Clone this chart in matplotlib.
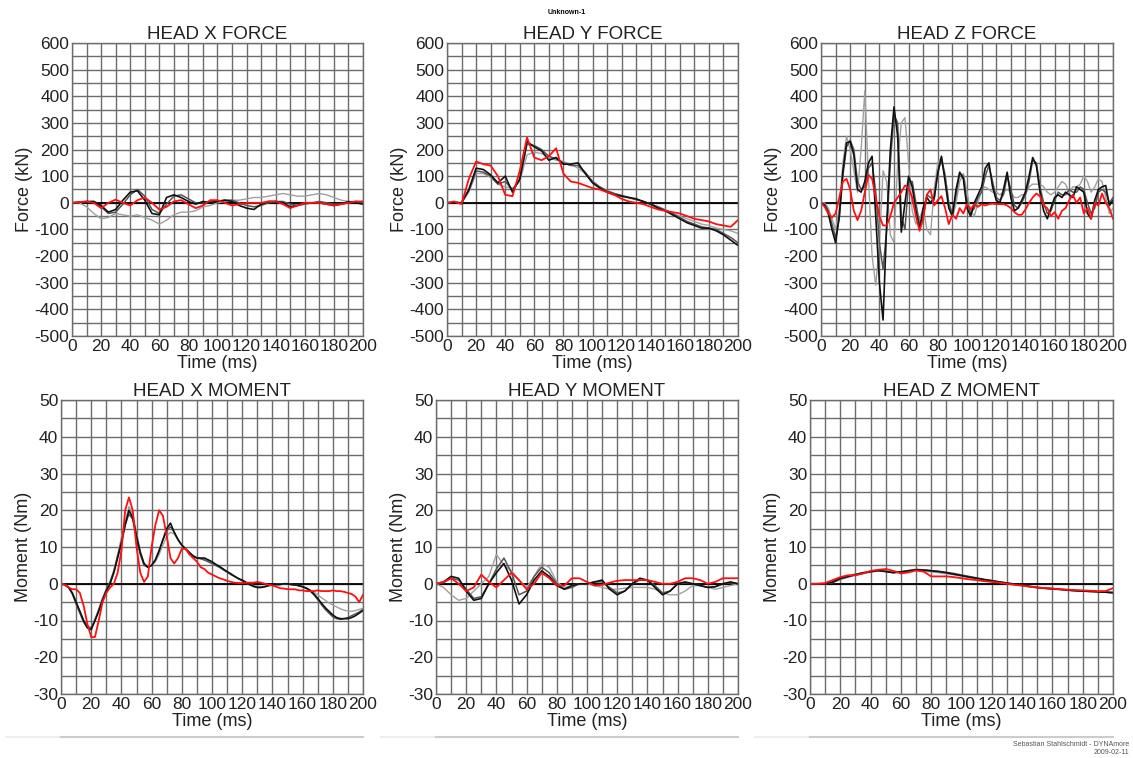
import numpy as np
import matplotlib.pyplot as plt

plt.rcParams['font.family'] = ['Liberation Sans', 'DejaVu Sans']
plt.rcParams['axes.unicode_minus'] = False

# sample times (ms)
t5 = np.arange(0, 201, 5.0)
t25 = np.arange(0, 200.1, 2.5)

# ---- head forces (kN) ----
fx_black = [0, 2, 5, 5, -10, -35, -25, 10, 40, 45, 10, -40, -45, 20, 30, 20, 5, -5, 5, 0, 5,
            10, 5, -10, -20, -25, -5, 5, 5, 0, -15, -10, 0, 0, 0, -5, -10, -5, 5, 0, -5]
fx_dark = [0, 2, 3, 5, -15, -40, -35, -5, 30, 50, 25, -25, -40, -5, 25, 30, 15, 0, 0, 5, 5,
           10, 10, 0, -10, -15, -10, 0, 5, 5, -5, -10, -5, 0, 5, 0, -5, -5, 0, 5, 0]
fx_gray = [0, 0, -15, -40, -60, -55, -40, -45, -50, -45, -55, -65, -80, -65, -45, -35, -35, -30, -15, -10, 0,
           5, 10, 10, 15, 20, 20, 25, 30, 35, 30, 25, 25, 30, 35, 30, 20, 10, 5, 5, 5]
fx_red = [0, 3, 5, 0, -20, 0, 12, 0, -10, 10, 20, 0, -25, -15, 5, 10, -5, -20, -10, 10, 10,
          0, -10, -5, 0, 0, 0, 5, 5, -5, -20, -10, 0, 0, 0, -5, -10, -5, 0, 5, 5]

fy_black = [0, 2, 0, 50, 130, 125, 105, 75, 100, 40, 90, 230, 210, 195, 160, 170, 145, 145, 150, 110, 75,
            55, 40, 30, 25, 20, 15, 5, -5, -20, -30, -45, -60, -75, -85, -95, -95, -105, -120, -140, -160]
fy_dark = [0, 2, 0, 45, 120, 115, 100, 70, 80, 50, 85, 220, 215, 200, 175, 165, 150, 140, 140, 115, 80,
           60, 45, 35, 28, 20, 12, 5, -5, -15, -28, -40, -55, -70, -80, -90, -95, -100, -115, -130, -150]
fy_gray = [0, 2, 0, 40, 110, 110, 95, 70, 60, 55, 80, 180, 190, 185, 170, 160, 155, 145, 130, 110, 80,
           60, 45, 35, 25, 18, 12, 5, -5, -15, -25, -40, -50, -60, -70, -80, -85, -95, -100, -105, -115]
fy_red = [0, 5, -5, 90, 155, 145, 140, 100, 30, 25, 120, 245, 170, 160, 175, 205, 110, 80, 75, 65, 55,
          50, 40, 30, 15, 5, 0, -5, -15, -25, -30, -35, -40, -50, -60, -65, -70, -80, -85, -90, -65]

fz_black = [0, -10, -40, -100, -150, -50, 120, 225, 230, 180, 50, 40, 80, 150, 175, -50, -300, -440, -80, 200,
            360, 250, -110, 0, 100, 60, -30, -100, -20, 20, 0, 20, 110, 175, 80, -20, -50, 50, 115, 90,
            -20, -50, 0, 30, 60, 130, 150, 60, 10, 0, 50, 115, 20, -30, -20, 10, 40, 100, 170, 140,
            40, -30, -60, -20, 20, 30, 20, 40, 30, 20, 60, 50, 40, -40, -60, 10, 50, 60, 65, -10, 10]
fz_dark = [0, -5, -30, -80, -130, -60, 100, 210, 235, 200, 80, 50, 60, 130, 150, 40, -150, -250, -100, 150,
           330, 300, -50, -100, 80, 80, 0, -80, -50, 30, 20, 10, 120, 160, 100, 0, -40, 30, 110, 100,
           0, -40, -20, 20, 40, 100, 140, 80, 20, 10, 30, 100, 50, -10, -20, 0, 30, 80, 160, 150,
           60, 0, -40, -30, 10, 40, 30, 30, 50, 40, 40, 60, 50, 0, -40, -20, 40, 50, 40, 0, 20]
fz_gray = [0, 0, -20, -60, -100, -20, 150, 250, 200, 120, 40, 200, 420, 100, -200, -310, -150, 120, 80, -120,
           -150, 150, 300, 320, 150, -30, -80, -60, -20, -100, -120, 50, 150, 170, 110, 0, -60, 0, 80, 110,
           40, -30, -50, 0, 50, 60, 50, 40, 40, 30, 40, 50, 40, 20, 20, 30, 30, 60, 70, 70,
           70, 60, 40, 30, 40, 60, 80, 70, 40, 60, 60, 70, 100, 80, 40, 60, 90, 80, 20, -40, -20]
fz_red = [0, -15, -40, -55, -40, 20, 80, 90, 50, -30, -65, -30, 40, 105, 90, 20, -50, -85, -85, -50,
          0, 20, 40, 65, 55, 20, -50, -105, -60, 30, 50, -10, 10, 25, -20, -80, -45, -60, -20, -40,
          -5, -25, -5, -15, -5, -10, -5, -3, -5, -5, -5, -10, -20, -35, -45, -45, -25, 0, 20, 35,
          25, -10, -20, -50, -35, -60, -30, -20, 10, 30, 0, 20, -40, -20, -60, 0, -10, 35, 0, -20, -60]

# ---- head moments (Nm) ----
mx_black = [0, -0.3, -1, -2.5, -5, -7.5, -10, -12, -12.5, -10, -7.5, -4.5, -2, 0, 3, 7, 11, 16, 20, 18,
            13, 8.5, 5.5, 4.5, 5, 6.5, 9, 12, 15, 16.5, 14, 12, 10.5, 9.5, 8.5, 7.5, 7, 7, 7, 6.5,
            6, 5.3, 4.7, 4, 3.3, 2.7, 2, 1.4, 1, 0.4, -0.2, -0.7, -1, -1, -0.8, -0.5, -0.3, -0.2, -0.2, 0,
            0, -0.2, -0.3, -0.5, -0.8, -1.2, -1.8, -2.8, -4, -5.3, -6.5, -7.5, -8.5, -9.2, -9.5, -9.5, -9.5, -9.2, -8.7, -8, -7.3]
mx_dark = [0, -0.3, -1, -2.8, -5.5, -8, -10.5, -12, -12, -10, -7, -4, -1.5, 0.5, 3.5, 7.5, 11.5, 16, 19, 17.5,
           12.5, 8, 5, 4.5, 5, 6.5, 9, 12, 14.5, 15.5, 14, 12, 10.5, 9.5, 8.5, 7.5, 7, 6.8, 6.5, 6,
           5.5, 5, 4.5, 3.8, 3.2, 2.5, 2, 1.4, 0.8, 0.3, -0.3, -0.7, -1, -1, -0.8, -0.5, -0.3, -0.2, -0.2, 0,
           0, -0.2, -0.3, -0.5, -0.8, -1.2, -2, -3, -4.3, -5.7, -7, -8, -9, -9.5, -9.7, -9.5, -9.2, -8.7, -8.2, -7.7, -7]
mx_gray = [0, -0.2, -0.8, -2.5, -5, -7.5, -10, -11.5, -11.8, -9.5, -7, -4.5, -2, 0.2, 3.5, 8, 12.5, 17, 21, 19,
           14, 9, 5.5, 4.5, 5, 6, 8, 10.5, 13, 14, 13.5, 12, 10.5, 9.5, 8.5, 7.8, 7.2, 6.8, 6.4, 6,
           5.5, 5, 4.4, 3.8, 3.2, 2.6, 2, 1.4, 0.8, 0.3, -0.2, -0.5, -0.7, -0.8, -0.7, -0.5, -0.3, -0.2, -0.2, -0.1,
           0, -0.2, -0.4, -0.6, -0.9, -1.3, -1.8, -2.3, -3, -3.8, -4.5, -5.2, -5.8, -6.3, -6.8, -7.2, -7.4, -7.5, -7.3, -7, -6.7]
mx_red = [0, -0.3, -1, -1.5, -1.5, -2.5, -6, -11, -14.5, -14.5, -10, -5, -2.5, -1, 0, 3, 9, 20, 23.5, 20,
          10, 3, 0.5, 2, 10, 16, 20, 18.5, 13, 7, 5.5, 7, 9.5, 9.5, 8, 7, 6, 4.5, 4, 3,
          2.5, 2, 1.5, 1.2, 0.8, 0.5, 0.3, 0.2, 0.2, 0.3, 0.3, 0.3, 0.5, 0.3, 0, -0.3, -0.5, -0.8, -1.2, -1.3,
          -1.5, -1.5, -1.5, -1.8, -1.8, -2, -2, -2, -1.8, -2, -2, -2, -1.8, -2, -2, -2.2, -2.5, -2.8, -3.5, -5, -3]

my_black = [0, 0.5, 2, 1.5, -2, -4.5, -4, 0, 3, 5.5, 1, -5.5, -3, 1, 3.5, 2, -0.5, -1.5, -0.5, 0, 0,
            0.5, 1, -1.5, -3, -2, 0, 1.5, 1, -1, -3, -2, 0, 0.5, 0, -0.5, -1, -0.8, 0, 0.5, 0]
my_dark = [0, 0.3, 1.5, 1, -1.5, -4, -3.5, 0, 4, 7, 3, -3, -2, 2, 4.5, 3, 0, -1.5, -1, 0, 0,
           0.5, 0.5, -1, -2.5, -2, 0, 1, 1, -0.5, -2.5, -2, 0, 0.3, 0, -0.5, -1, -0.8, 0, 0.3, 0]
my_gray = [0, -1, -3, -4.5, -4, -2, 0, 2, 8, 5, 3.5, 1, -1, 2, 5.5, 4.5, 0.5, -1, -0.5, 0, 0,
           -0.5, -1, -1.5, -1.5, -1.2, -1, -1, -1, -1.5, -2.5, -3, -3, -2, -0.5, -0.5, -1, -1.5, -1, -0.5, 0]
my_red = [0, 0.5, 1.5, 0, -2, -1, 2.5, 0.5, -1, 1, 3, 1, -1.5, 0, 3, 1.5, -0.5, -0.5, 1.5, 1.5, 0.5,
          -0.5, -0.3, 0.3, 0.8, 1, 1, 1, 1, 0.5, 0, 0, 0.5, 1.5, 1.5, 1, 0, 0.5, 1.5, 1.5, 1.5]

mz_black = [0, 0, 0, 0.5, 1.5, 2, 2.5, 3, 3.3, 3.6, 3.3, 3, 3.2, 3.5, 3.8, 3.7, 3.5, 3.3, 3, 2.6, 2.2,
            1.8, 1.5, 1.1, 0.8, 0.5, 0.2, -0.1, -0.4, -0.7, -1, -1.2, -1.3, -1.5, -1.7, -1.9, -2, -2.1, -2.2, -2.3, -2.5]
mz_dark = [0, 0, 0, 0.3, 1.2, 1.8, 2.4, 2.8, 3.2, 3.5, 3.4, 3.1, 3.3, 3.6, 3.9, 3.8, 3.6, 3.4, 3.1, 2.8, 2.4,
           2, 1.6, 1.2, 0.9, 0.5, 0.2, -0.2, -0.5, -0.8, -1.1, -1.3, -1.5, -1.6, -1.8, -1.9, -2, -2.1, -2.2, -2.3, -2.4]
mz_gray = [0, 0, 0, 0.5, 1.5, 2.2, 2.6, 3, 3.4, 3.7, 3.4, 3, 3.2, 3.4, 3.6, 3.4, 3.2, 3, 2.7, 2.4, 2.1,
           1.7, 1.3, 1, 0.7, 0.4, 0.1, -0.2, -0.5, -0.8, -1, -1.2, -1.4, -1.5, -1.7, -1.8, -1.9, -2, -2.1, -2.1, -2.2]
mz_red = [0, 0, 0.2, 1, 1.8, 2.3, 2.3, 2.8, 3.5, 3.8, 4, 3.5, 2.8, 3.1, 3.6, 3.3, 2, 2, 2, 1.8, 1.5,
          1.2, 1, 0.7, 0.5, 0.3, 0, -0.3, -0.5, -0.8, -1, -1.2, -1.3, -1.5, -1.6, -1.7, -1.8, -1.9, -2, -2, -1.2]

panels = [
    ("HEAD X FORCE", "Force (kN)", t5, [fx_gray, fx_dark, fx_black, fx_red]),
    ("HEAD Y FORCE", "Force (kN)", t5, [fy_gray, fy_dark, fy_black, fy_red]),
    ("HEAD Z FORCE", "Force (kN)", t25, [fz_gray, fz_dark, fz_black, fz_red]),
    ("HEAD X MOMENT", "Moment (Nm)", t25, [mx_gray, mx_dark, mx_black, mx_red]),
    ("HEAD Y MOMENT", "Moment (Nm)", t5, [my_gray, my_dark, my_black, my_red]),
    ("HEAD Z MOMENT", "Moment (Nm)", t5, [mz_gray, mz_dark, mz_black, mz_red]),
]

# axes boxes in pixels: left, right, top, bottom
boxes = [(72, 363, 43, 336), (447, 738, 43, 336), (821, 1113, 43, 336),
         (61, 363, 400, 694), (436, 738, 400, 694), (810, 1113, 400, 694)]

line_styles = [("#a0a0a0", 1.0), ("#555555", 1.1), ("#111111", 1.2), ("#ff1010", 1.3)]
W, H = 1133, 758
gridc = "#6c6c6c"

fig = plt.figure(figsize=(W / 100, H / 100), dpi=100)

for (title, ylab, t, curves), (l, r, tp, b) in zip(panels, boxes):
    ax = fig.add_axes([l / W, 1 - b / H, (r - l) / W, (b - tp) / H])
    for y, (c, lw) in zip(curves, line_styles):
        ax.plot(t, y, color=c, lw=lw)
    ax.axhline(0, color="black", lw=1.3, zorder=1)
    ax.set_xlim(0, 200)
    ax.set_xticks(np.arange(0, 201, 20))
    ax.set_xticks(np.arange(0, 201, 10), minor=True)
    if "FORCE" in title:
        ax.set_ylim(-500, 600)
        ax.set_yticks(np.arange(-500, 601, 100))
        ax.set_yticks(np.arange(-500, 601, 50), minor=True)
    else:
        ax.set_ylim(-30, 50)
        ax.set_yticks(np.arange(-30, 51, 10))
        ax.set_yticks(np.arange(-30, 51, 5), minor=True)
    ax.grid(which="both", color=gridc, lw=1.0)
    ax.set_axisbelow(True)
    for s in ax.spines.values():
        s.set_color(gridc)
        s.set_linewidth(1.0)
    ax.tick_params(which="both", length=0, labelsize=12.5, labelcolor="#222222", pad=2)
    ax.set_title(title, fontsize=13.5, color="#222222", pad=3)
    ax.set_xlabel("Time (ms)", fontsize=13, color="#222222", labelpad=1)
    ax.set_ylabel(ylab, fontsize=13, color="#222222", labelpad=1)

# separators below the lower row
for l, r, tp, b in boxes[3:]:
    fig.add_artist(plt.Line2D([(l - 55) / W, l / W], [1 - 737 / H] * 2, color="#eeeeee", lw=1.5))
    fig.add_artist(plt.Line2D([l / W, r / W], [1 - 737 / H] * 2, color="#cccccc", lw=1.5))

fig.text(567 / W, 1 - 12 / H, "Unknown-1", fontsize=5, fontweight="bold", ha="center", va="center")
fig.text(1129 / W, 1 - 745 / H, "Sebastian Stahlschmidt - DYNAmore", fontsize=5, color="#555555",
         ha="right", va="center")
fig.text(1129 / W, 1 - 753 / H, "2009-02-11", fontsize=5, color="#555555", ha="right", va="center")

fig.savefig("out.png", dpi=100)
